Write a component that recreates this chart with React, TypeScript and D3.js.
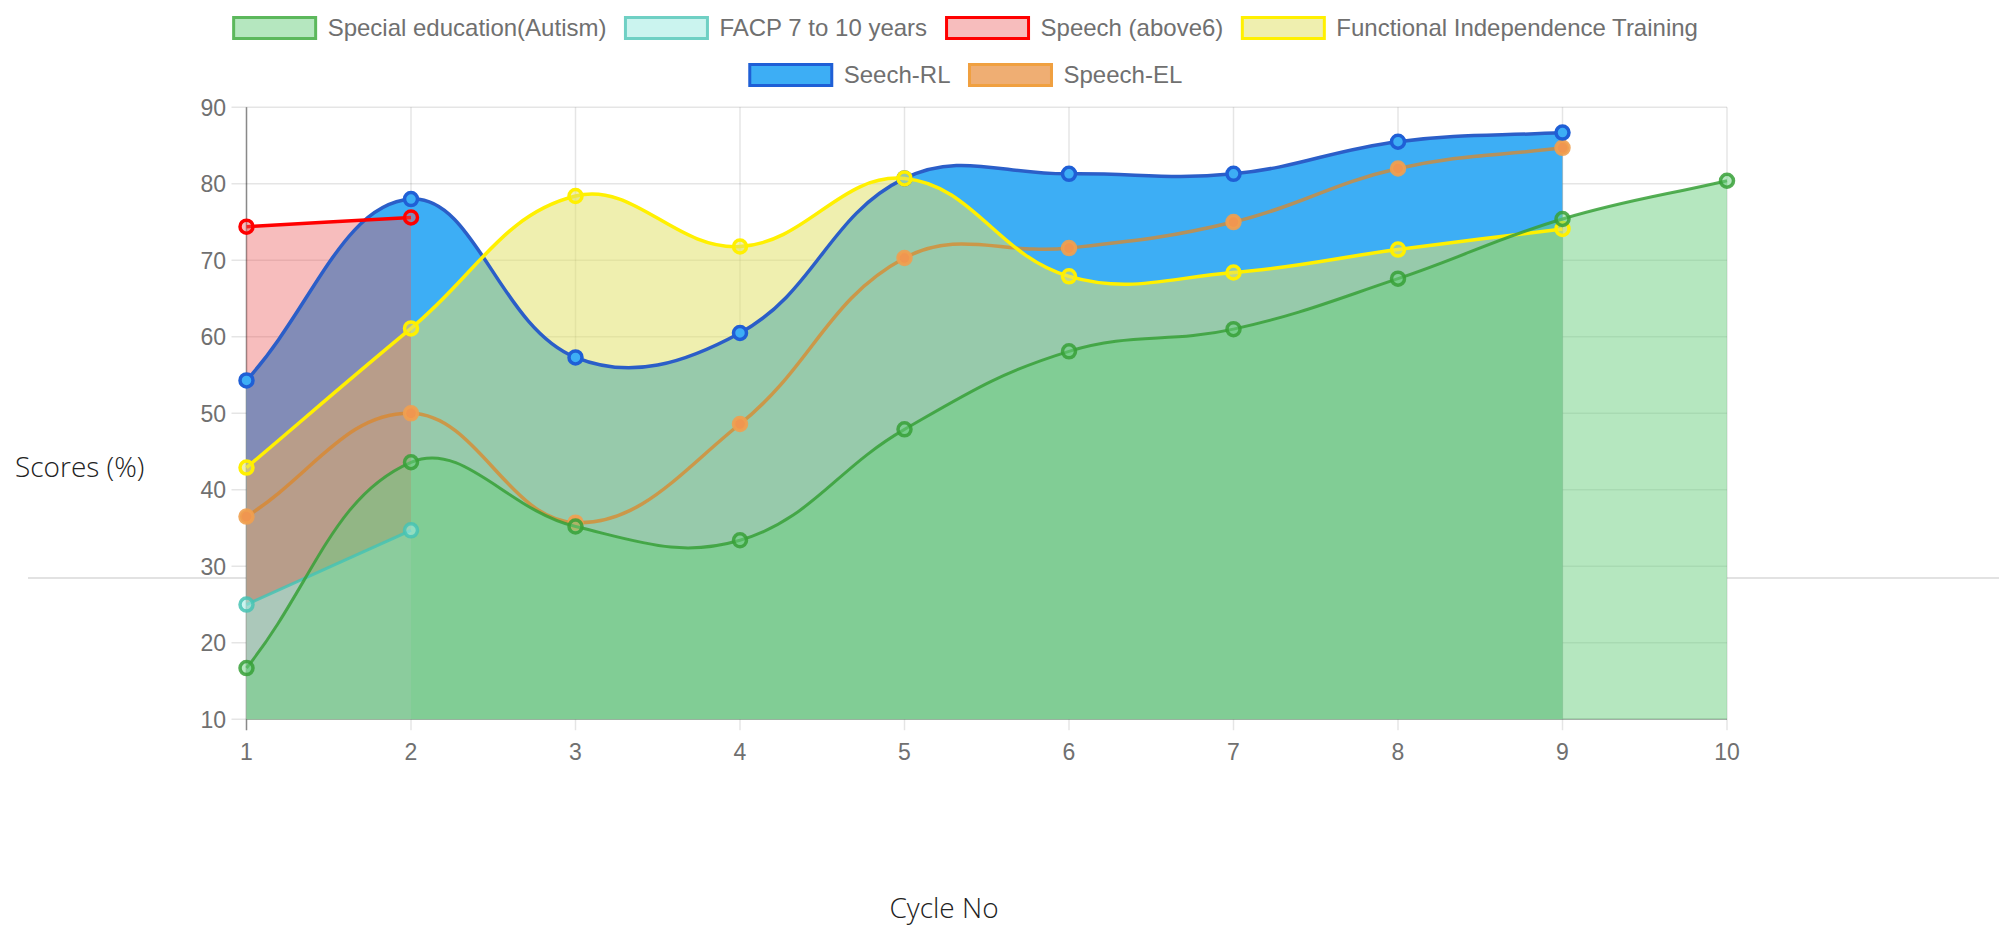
import React from "react";
import * as d3 from "d3";

const width = 1999;
const height = 926;
const plot = { left: 246.5, right: 1727, top: 107.3, bottom: 719.3 };

// data
const cycles = [1, 2, 3, 4, 5, 6, 7, 8, 9, 10];
const yTicks = [10, 20, 30, 40, 50, 60, 70, 80, 90];
const specialEducation = [16.7, 43.6, 35.2, 33.4, 47.9, 58.1, 61.0, 67.6, 75.4, 80.4];
const facp = [25.0, 34.7];
const speechAbove6 = [74.4, 75.6];
const functionalTraining = [42.9, 61.1, 78.4, 71.8, 80.7, 67.9, 68.4, 71.4, 74.1];
const seechRL = [54.3, 78.0, 57.3, 60.5, 80.7, 81.3, 81.3, 85.5, 86.7];
const speechEL = [36.5, 50.0, 35.7, 48.6, 70.3, 71.6, 75.0, 82.0, 84.7];

const series = [
  { label: "Special education(Autism)", values: specialEducation, line: "rgba(55,160,55,0.85)", width: 3, fill: "rgba(107,208,128,0.5)", dot: "rgba(107,208,128,0.5)", dotLine: "rgba(55,160,55,0.85)", box: "rgba(107,208,128,0.5)", boxLine: "#5cb85c" },
  { label: "FACP 7 to 10 years", values: facp, line: "rgba(70,195,180,0.85)", width: 3, fill: "rgba(160,235,225,0.55)", dot: "rgba(160,235,225,0.55)", dotLine: "rgba(70,195,180,0.85)", box: "rgba(160,235,225,0.55)", boxLine: "#6fd0c4" },
  { label: "Speech (above6)", values: speechAbove6, line: "#ff0000", width: 3.5, fill: "rgba(235,90,90,0.4)", dot: "rgba(235,90,90,0.4)", dotLine: "#ff0000", box: "rgba(235,90,90,0.4)", boxLine: "#ff0000" },
  { label: "Functional Independence Training", values: functionalTraining, line: "#fff000", width: 3.5, fill: "rgba(225,225,110,0.55)", dot: "rgba(225,225,110,0.55)", dotLine: "#fff000", box: "rgba(225,225,110,0.55)", boxLine: "#fff000" },
  { label: "Seech-RL", values: seechRL, line: "#2b5ec8", width: 3.5, fill: "#3daef5", dot: "#3daef5", dotLine: "#1f5fd6", box: "#3daef5", boxLine: "#1f5fd6" },
  { label: "Speech-EL", values: speechEL, line: "rgba(220,135,40,0.75)", width: 3.5, fill: "rgba(230,130,40,0.65)", dot: "#f09650", dotLine: "rgba(240,160,80,0.9)", box: "rgba(230,130,40,0.65)", boxLine: "#f0a040" },
];

const legendRows = [[0, 1, 2, 3], [4, 5]];

// chart.js style bezier spline (tension 0.4, control points capped to chart area)
const chartSpline = (tension) => (context) => {
  let line = undefined;
  let pts = [];
  const clampX = (v) => Math.max(plot.left, Math.min(plot.right, v));
  const clampY = (v) => Math.max(plot.top, Math.min(plot.bottom, v));
  return {
    areaStart() { line = 0; },
    areaEnd() { line = NaN; },
    lineStart() { pts = []; },
    point(x, y) { pts.push([+x, +y]); },
    lineEnd() {
      const n = pts.length;
      if (n > 0) {
        if (line) context.lineTo(pts[0][0], pts[0][1]);
        else context.moveTo(pts[0][0], pts[0][1]);
        if (n > 1) {
          const cps = pts.map((p, i) => {
            const prev = pts[Math.max(i - 1, 0)];
            const next = pts[Math.min(i + 1, n - 1)];
            const d01 = Math.hypot(p[0] - prev[0], p[1] - prev[1]);
            const d12 = Math.hypot(next[0] - p[0], next[1] - p[1]);
            let s01 = d01 / (d01 + d12);
            let s12 = d12 / (d01 + d12);
            if (isNaN(s01)) s01 = 0;
            if (isNaN(s12)) s12 = 0;
            const fa = tension * s01;
            const fb = tension * s12;
            return {
              px: clampX(p[0] - fa * (next[0] - prev[0])),
              py: clampY(p[1] - fa * (next[1] - prev[1])),
              nx: clampX(p[0] + fb * (next[0] - prev[0])),
              ny: clampY(p[1] + fb * (next[1] - prev[1])),
            };
          });
          for (let i = 0; i < n - 1; i++) {
            context.bezierCurveTo(cps[i].nx, cps[i].ny, cps[i + 1].px, cps[i + 1].py, pts[i + 1][0], pts[i + 1][1]);
          }
        }
      }
      if (line || (line !== 0 && n === 1)) context.closePath();
      line = 1 - line;
    },
  };
};

const legendFont = "24px 'Liberation Sans', Arial, sans-serif";
let measureCtx = null;
const textWidth = (s) => {
  if (!measureCtx) measureCtx = document.createElement("canvas").getContext("2d");
  measureCtx.font = legendFont;
  return measureCtx.measureText(s).width;
};

const Legend = () => {
  const boxW = 82;
  const boxH = 21;
  const gap = 12;
  const spacing = 19;
  const centerX = 966;
  const rowY = [28, 75];
  return (
    <g>
      {legendRows.map((row, r) => {
        const widths = row.map((i) => boxW + gap + textWidth(series[i].label));
        const total = d3.sum(widths) + spacing * (row.length - 1);
        let x = centerX - total / 2;
        return row.map((i, k) => {
          const s = series[i];
          const x0 = x;
          x += widths[k] + spacing;
          return (
            <g key={s.label}>
              <rect x={x0} y={rowY[r] - boxH / 2} width={boxW} height={boxH} fill="#fff" />
              <rect x={x0} y={rowY[r] - boxH / 2} width={boxW} height={boxH} fill={s.box} stroke={s.boxLine} strokeWidth={3} />
              <text x={x0 + boxW + gap} y={rowY[r]} dy="0.35em" fontFamily="'Liberation Sans', Arial, sans-serif" fontSize={24} fill="#707070">
                {s.label}
              </text>
            </g>
          );
        });
      })}
    </g>
  );
};

const App = () => {
  const x = d3.scaleLinear().domain([1, 10]).range([plot.left, plot.right]);
  const y = d3.scaleLinear().domain([10, 90]).range([plot.bottom, plot.top]);

  const curve = chartSpline(0.4);
  const area = d3.area()
    .x((d, i) => x(cycles[i]))
    .y0(y(10))
    .y1((d) => y(d))
    .curve(curve);
  const line = d3.line()
    .x((d, i) => x(cycles[i]))
    .y((d) => y(d))
    .curve(curve);

  const drawOrder = series.slice().reverse();
  const font = "'Liberation Sans', Arial, sans-serif";

  return (
    <svg width={width} height={height} style={{ position: "absolute", left: 0, top: 0 }}>
      <rect width={width} height={height} fill="#fff" />
      <line x1={28} x2={width} y1={578} y2={578} stroke="#e2e2e2" strokeWidth={2} />
      <rect x={plot.left} y={plot.top} width={plot.right - plot.left} height={plot.bottom - plot.top} fill="#fff" />

      <Legend />

      {/* grid */}
      {yTicks.map((t) => (
        <g key={"y" + t}>
          <line x1={plot.left - 15} x2={plot.right} y1={y(t)} y2={y(t)} stroke="rgba(0,0,0,0.1)" strokeWidth={1.5} />
          <text x={226} y={y(t)} dy="0.36em" textAnchor="end" fontFamily={font} fontSize={23} fill="#707070">
            {t}
          </text>
        </g>
      ))}
      {cycles.map((c) => (
        <g key={"x" + c}>
          <line x1={x(c)} x2={x(c)} y1={plot.top} y2={plot.bottom + 11} stroke="rgba(0,0,0,0.1)" strokeWidth={1.5} />
          <text x={x(c)} y={760} textAnchor="middle" fontFamily={font} fontSize={23} fill="#707070">
            {c}
          </text>
        </g>
      ))}
      <line x1={plot.left} x2={plot.left} y1={plot.top} y2={plot.bottom + 11} stroke="rgba(0,0,0,0.4)" strokeWidth={1.5} />
      <line x1={plot.left} x2={plot.right} y1={plot.bottom} y2={plot.bottom} stroke="rgba(0,0,0,0.25)" strokeWidth={1.5} />

      {/* fills first, last dataset at the bottom */}
      {drawOrder.map((s) => (
        <path key={"f" + s.label} d={area(s.values)} fill={s.fill} />
      ))}

      {/* lines and points */}
      {drawOrder.map((s) => (
        <g key={"l" + s.label}>
          <path d={line(s.values)} fill="none" stroke={s.line} strokeWidth={s.width} />
          {s.values.map((v, i) => (
            <circle key={i} cx={x(cycles[i])} cy={y(v)} r={6.5} fill={s.dot} stroke={s.dotLine} strokeWidth={3.5} />
          ))}
        </g>
      ))}

      <text x={15} y={477} fontFamily="'Open Sans', sans-serif" fontWeight={300} fontSize={28} fill="#222">
        Scores (%)
      </text>
      <text x={944} y={918} textAnchor="middle" fontFamily="'Open Sans', sans-serif" fontWeight={300} fontSize={28} fill="#222">
        Cycle No
      </text>
    </svg>
  );
};

export default App;
